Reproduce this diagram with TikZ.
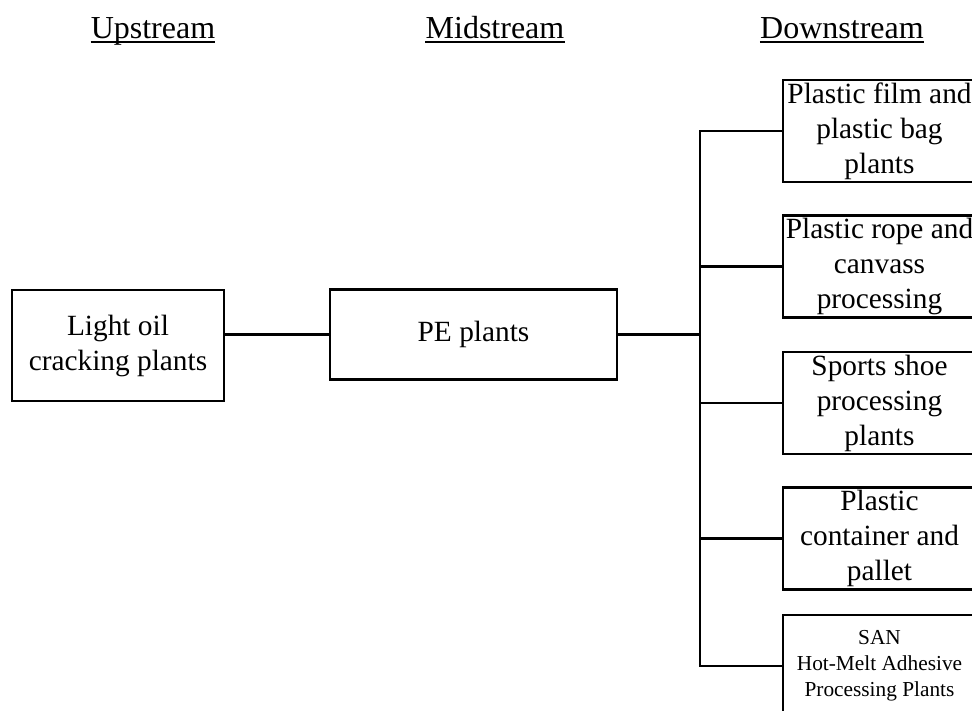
\documentclass[tikz,border=0pt]{standalone}
\usepackage{fontspec}
\setmainfont{Liberation Serif}
\begin{document}
\begin{tikzpicture}[x=0.75pt,y=-0.75pt,
  header/.style={inner sep=0pt,anchor=base,font=\fontsize{24}{28}\selectfont},
  stage/.style={draw,line width=1.7pt,align=center,inner sep=2pt,
    font=\fontsize{22}{26.25}\selectfont},
  leaf/.style={stage,minimum width=144.75pt,minimum height=76.5pt},
  leafsmall/.style={leaf,font=\fontsize{16}{19.5}\selectfont},
  link/.style={line width=1.7pt},
  uline/.style={line width=1.3pt}]
\useasboundingbox (0,0) rectangle (972,711);
\clip (0,0) rectangle (972,711);

% column headings
\node[header] (hu) at (153,38) {Upstream};
\node[header] (hm) at (495,38) {Midstream};
\node[header] (hd) at (842,38) {Downstream};
\foreach \h in {hu,hm,hd}
  \draw[uline] ([yshift=-3.2pt]\h.base west) -- ([yshift=-3.2pt]\h.base east);

% upstream and midstream
\node[stage,minimum width=159pt,minimum height=83.25pt] (up) at (118,345.5)
  {Light oil\\cracking plants};
\node[stage,minimum width=215.25pt,minimum height=67.5pt] (mid) at (473.5,334.5)
  {PE plants};

% downstream
\node[leaf] (d1) at (879.5,131) {Plastic film and\\plastic bag\\plants};
\node[leaf] (d2) at (879.5,266.5) {Plastic rope and\\canvass\\processing};
\node[leaf] (d3) at (879.5,403) {Sports shoe\\processing\\plants};
\node[leaf] (d4) at (879.5,538.5) {Plastic\\container and\\pallet};
\node[leafsmall] (d5) at (879.5,666) {SAN\\Hot-Melt Adhesive\\Processing Plants};

% connectors
\coordinate (bus) at (700,334.5);
\draw[link] (mid.west -| up.east) -- (mid.west);
\draw[link,line width=2.2pt] (mid.east) -- (bus);
\draw[link] (d1.west) -- (d1.west -| bus) -- (d5.west -| bus) -- (d5.west);
\foreach \d in {d2,d3,d4}
  \draw[link] (\d.west) -- (\d.west -| bus);
\end{tikzpicture}
\end{document}
